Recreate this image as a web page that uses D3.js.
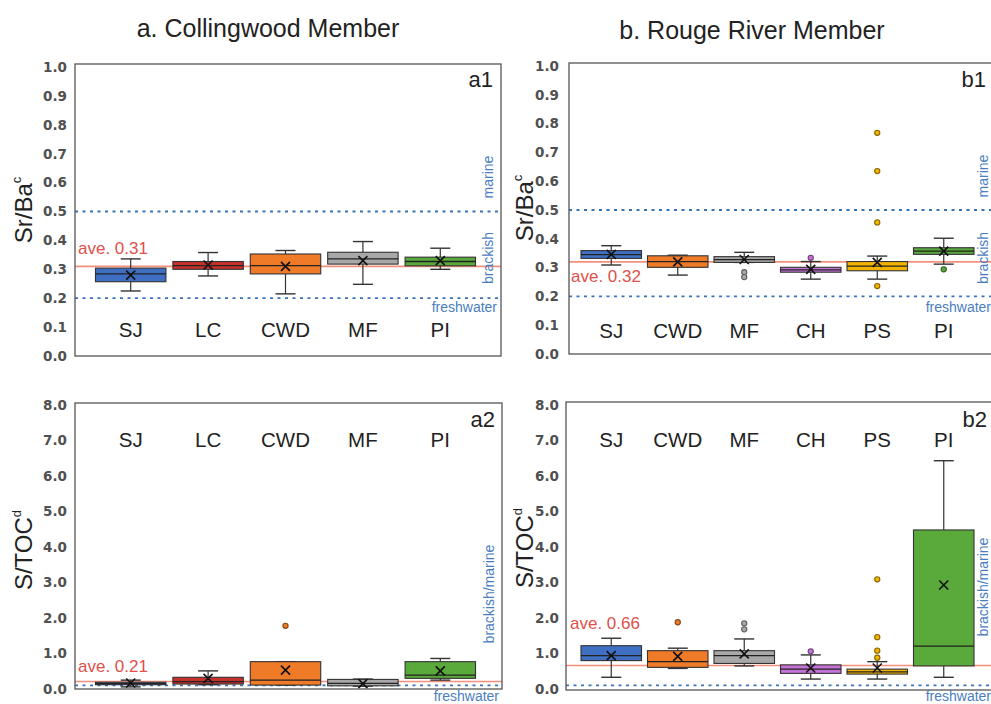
<!DOCTYPE html>
<html>
<head>
<meta charset="utf-8">
<script src="https://cdn.jsdelivr.net/npm/d3@7"></script>
<style>
  body { margin: 0; background: #fff; }
  svg { display: block; }
</style>
</head>
<body>
<svg id="chart" width="991" height="704"></svg>
<script>
// Sampling locations for each member
const catsCollingwood = ["SJ", "LC", "CWD", "MF", "PI"];
const catsRouge = ["SJ", "CWD", "MF", "CH", "PS", "PI"];

// Box statistics per location: whisker low, Q1, median, Q3, whisker high, mean, outliers
const srBaCollingwood = [
  { lo: 0.225, q1: 0.257, med: 0.284, q3: 0.304, hi: 0.336, mean: 0.280, out: [] },
  { lo: 0.277, q1: 0.300, med: 0.313, q3: 0.327, hi: 0.358, mean: 0.315, out: [] },
  { lo: 0.215, q1: 0.284, med: 0.313, q3: 0.353, hi: 0.365, mean: 0.310, out: [] },
  { lo: 0.248, q1: 0.318, med: 0.336, q3: 0.359, hi: 0.396, mean: 0.330, out: [] },
  { lo: 0.300, q1: 0.312, med: 0.327, q3: 0.342, hi: 0.373, mean: 0.330, out: [] }
];
const srBaRouge = [
  { lo: 0.309, q1: 0.332, med: 0.345, q3: 0.359, hi: 0.376, mean: 0.346, out: [] },
  { lo: 0.274, q1: 0.301, med: 0.321, q3: 0.341, hi: 0.343, mean: 0.320, out: [] },
  { lo: 0.318, q1: 0.318, med: 0.328, q3: 0.338, hi: 0.353, mean: 0.328, out: [0.284, 0.267] },
  { lo: 0.260, q1: 0.284, med: 0.292, q3: 0.301, hi: 0.321, mean: 0.294, out: [0.334] },
  { lo: 0.260, q1: 0.289, med: 0.305, q3: 0.321, hi: 0.340, mean: 0.318, out: [0.768, 0.635, 0.457, 0.236] },
  { lo: 0.312, q1: 0.346, med: 0.357, q3: 0.369, hi: 0.402, mean: 0.357, out: [0.294] }
];
const sTocCollingwood = [
  { lo: 0.06, q1: 0.12, med: 0.15, q3: 0.19, hi: 0.25, mean: 0.17, out: [] },
  { lo: 0.12, q1: 0.14, med: 0.21, q3: 0.33, hi: 0.51, mean: 0.30, out: [] },
  { lo: 0.11, q1: 0.11, med: 0.25, q3: 0.77, hi: 0.77, mean: 0.53, out: [1.78] },
  { lo: 0.08, q1: 0.09, med: 0.16, q3: 0.27, hi: 0.28, mean: 0.15, out: [] },
  { lo: 0.25, q1: 0.30, med: 0.39, q3: 0.77, hi: 0.86, mean: 0.51, out: [] }
];
const sTocRouge = [
  { lo: 0.33, q1: 0.80, med: 0.94, q3: 1.22, hi: 1.43, mean: 0.94, out: [] },
  { lo: 0.58, q1: 0.61, med: 0.77, q3: 1.08, hi: 1.15, mean: 0.92, out: [1.88] },
  { lo: 0.65, q1: 0.72, med: 0.94, q3: 1.08, hi: 1.41, mean: 0.99, out: [1.68, 1.85] },
  { lo: 0.28, q1: 0.44, med: 0.56, q3: 0.68, hi: 0.96, mean: 0.59, out: [1.06] },
  { lo: 0.28, q1: 0.42, med: 0.48, q3: 0.56, hi: 0.77, mean: 0.59, out: [0.88, 1.08, 1.46, 3.09] },
  { lo: 0.33, q1: 0.65, med: 1.21, q3: 4.48, hi: 6.43, mean: 2.93, out: [] }
];

// Member averages and environment thresholds
const averages = { a1: 0.31, b1: 0.32, a2: 0.21, b2: 0.66 };
const srBaThresholds = [0.5, 0.2];
const sTocThresholds = [0.1];

// Tick values
const srBaTicks = d3.range(0, 11).map(i => i / 10);
const sTocTicks = d3.range(0, 9);

const palette = {
  SJ: "#3e6fc2", LC: "#c8302b", CWD: "#ef7a27", MF: "#a8a8a8",
  PI: "#5aa93b", CH: "#c572d6", PS: "#f3b400"
};

const svg = d3.select("#chart");
const FONT = "'Liberation Sans', Arial, sans-serif";
const BLUE = "#4a7ebf";
const RED = "#e0504a";

function drawPanel(p) {
  const g = svg.append("g");
  const y = d3.scaleLinear().domain(p.domain).range(p.yRange);
  const x = d3.scaleBand().domain(p.cats).range(p.xRange).paddingInner(0.09).paddingOuter(0.045);

  // tick labels
  const axis = d3.axisLeft(y).tickValues(p.ticks).tickFormat(d3.format(".1f")).tickSize(0).tickPadding(0);
  const ax = g.append("g").attr("transform", `translate(${p.tickX},0)`).call(axis);
  ax.select(".domain").remove();
  ax.selectAll("text")
    .attr("font-family", "'DejaVu Sans', sans-serif")
    .attr("font-weight", "bold")
    .attr("font-size", 13.5)
    .attr("fill", "#505050");

  // threshold lines
  p.thresholds.forEach(t => {
    g.append("line")
      .attr("x1", p.frame[0]).attr("x2", p.frame[1])
      .attr("y1", y(t)).attr("y2", y(t))
      .attr("stroke", "#3a72b8").attr("stroke-width", 1.8)
      .attr("stroke-dasharray", "3,4.5");
  });

  // member average line
  g.append("line")
    .attr("x1", p.frame[0]).attr("x2", p.frame[1])
    .attr("y1", y(p.ave)).attr("y2", y(p.ave))
    .attr("stroke", "#f3907c").attr("stroke-width", 1.6);

  // boxes
  const bw = x.bandwidth();
  const cap = 20;
  p.stats.forEach((s, i) => {
    const cat = p.cats[i];
    const cx = x(cat) + bw / 2;
    const col = palette[cat];
    const bg = g.append("g");
    bg.append("line").attr("x1", cx).attr("x2", cx).attr("y1", y(s.hi)).attr("y2", y(s.q3))
      .attr("stroke", "#333").attr("stroke-width", 1.2);
    bg.append("line").attr("x1", cx).attr("x2", cx).attr("y1", y(s.q1)).attr("y2", y(s.lo))
      .attr("stroke", "#333").attr("stroke-width", 1.2);
    [s.hi, s.lo].forEach(v => {
      bg.append("line").attr("x1", cx - cap / 2).attr("x2", cx + cap / 2)
        .attr("y1", y(v)).attr("y2", y(v)).attr("stroke", "#333").attr("stroke-width", 1.4);
    });
    bg.append("rect")
      .attr("x", x(cat)).attr("width", bw)
      .attr("y", y(s.q3)).attr("height", Math.max(1.5, y(s.q1) - y(s.q3)))
      .attr("fill", col).attr("stroke", "#333").attr("stroke-width", 1.1);
    bg.append("line").attr("x1", x(cat)).attr("x2", x(cat) + bw)
      .attr("y1", y(s.med)).attr("y2", y(s.med)).attr("stroke", "#222").attr("stroke-width", 1.3);
    // mean marker
    const m = 4.5, my = y(s.mean);
    bg.append("path")
      .attr("d", `M${cx - m},${my - m}L${cx + m},${my + m}M${cx - m},${my + m}L${cx + m},${my - m}`)
      .attr("stroke", "#111").attr("stroke-width", 1.6).attr("fill", "none");
    // outliers
    s.out.forEach(v => {
      bg.append("circle").attr("cx", cx).attr("cy", y(v)).attr("r", 2.6)
        .attr("fill", col).attr("stroke", d3.color(col).darker(1.6)).attr("stroke-width", 1.1);
    });
    // category label
    g.append("text").attr("x", cx).attr("y", p.catY)
      .attr("text-anchor", "middle").attr("font-family", FONT).attr("font-size", 20.5)
      .attr("fill", "#222").text(cat);
  });

  // frame
  g.append("rect")
    .attr("x", p.frame[0]).attr("y", p.frame[2])
    .attr("width", p.frame[1] - p.frame[0]).attr("height", p.frame[3] - p.frame[2])
    .attr("fill", "none").attr("stroke", "#555").attr("stroke-width", 1.3);

  // panel tag
  g.append("text").attr("x", p.tag[0]).attr("y", p.tag[1]).attr("text-anchor", "end")
    .attr("font-family", FONT).attr("font-size", 22).attr("fill", "#222").text(p.tagText);

  // average label
  g.append("text").attr("x", p.aveLabel[0]).attr("y", p.aveLabel[1])
    .attr("font-family", FONT).attr("font-size", 17).attr("fill", RED)
    .text("ave. " + d3.format(".2f")(p.ave));

  // environment labels
  p.envLabels.forEach(e => {
    const t = g.append("text").attr("font-family", FONT).attr("font-size", 14).attr("fill", BLUE).text(e.text);
    if (e.rotate) {
      t.attr("text-anchor", "middle").attr("transform", `translate(${e.x},${e.y}) rotate(-90)`);
    } else {
      t.attr("text-anchor", "end").attr("x", e.x).attr("y", e.y);
    }
  });

  // y axis title
  const tt = g.append("text").attr("text-anchor", "middle")
    .attr("transform", `translate(${p.title[0]},${p.title[1]}) rotate(-90)`)
    .attr("font-family", FONT).attr("font-size", 24).attr("fill", "#222");
  tt.append("tspan").text(p.titleMain);
  tt.append("tspan").attr("font-size", 13).attr("dy", -11).text(p.titleSup);
}

drawPanel({
  cats: catsCollingwood, stats: srBaCollingwood, domain: [0, 1], yRange: [356, 67],
  xRange: [92, 479], frame: [75, 501, 64, 356], ticks: srBaTicks, tickX: 67,
  thresholds: srBaThresholds, ave: averages.a1, catY: 337, tag: [493, 87], tagText: "a1",
  aveLabel: [78, 254],
  envLabels: [
    { text: "marine", x: 493, y: 177, rotate: true },
    { text: "brackish", x: 493, y: 258, rotate: true },
    { text: "freshwater", x: 497, y: 312 }
  ],
  title: [32, 210], titleMain: "Sr/Ba", titleSup: "c"
});

drawPanel({
  cats: catsRouge, stats: srBaRouge, domain: [0, 1], yRange: [354, 66],
  xRange: [578, 977], frame: [569, 994, 63, 354], ticks: srBaTicks, tickX: 559,
  thresholds: srBaThresholds, ave: averages.b1, catY: 338, tag: [986, 87], tagText: "b1",
  aveLabel: [571, 282],
  envLabels: [
    { text: "marine", x: 988, y: 176, rotate: true },
    { text: "brackish", x: 988, y: 258, rotate: true },
    { text: "freshwater", x: 991, y: 312 }
  ],
  title: [533, 208], titleMain: "Sr/Ba", titleSup: "c"
});

drawPanel({
  cats: catsCollingwood, stats: sTocCollingwood, domain: [0, 8], yRange: [689, 405],
  xRange: [92, 479], frame: [75, 502, 403, 689], ticks: sTocTicks, tickX: 67,
  thresholds: sTocThresholds, ave: averages.a2, catY: 447, tag: [495, 427], tagText: "a2",
  aveLabel: [78, 672],
  envLabels: [
    { text: "brackish/marine", x: 494, y: 594, rotate: true },
    { text: "freshwater", x: 499, y: 701 }
  ],
  title: [32, 550], titleMain: "S/TOC", titleSup: "d"
});

drawPanel({
  cats: catsRouge, stats: sTocRouge, domain: [0, 8], yRange: [689, 405],
  xRange: [578, 977], frame: [566, 994, 402, 690], ticks: sTocTicks, tickX: 559,
  thresholds: sTocThresholds, ave: averages.b2, catY: 447, tag: [987, 427], tagText: "b2",
  aveLabel: [570, 629],
  envLabels: [
    { text: "brackish/marine", x: 988, y: 587, rotate: true },
    { text: "freshwater", x: 991, y: 701 }
  ],
  title: [533, 548], titleMain: "S/TOC", titleSup: "d"
});

// column titles
svg.append("text").attr("x", 268).attr("y", 37).attr("text-anchor", "middle")
  .attr("font-family", FONT).attr("font-size", 25).attr("fill", "#222").text("a. Collingwood Member");
svg.append("text").attr("x", 752).attr("y", 39).attr("text-anchor", "middle")
  .attr("font-family", FONT).attr("font-size", 25).attr("fill", "#222").text("b. Rouge River Member");
</script>
</body>
</html>
